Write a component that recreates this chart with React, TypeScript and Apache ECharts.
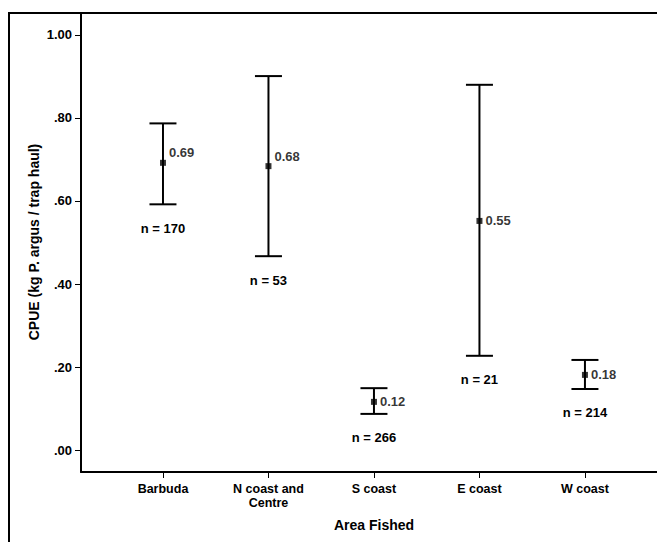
import React, { useEffect, useRef } from "react";
import * as echarts from "echarts";

const categories = ["Barbuda", "N coast and\nCentre", "S coast", "E coast", "W coast"];
const means = [0.692, 0.684, 0.116, 0.552, 0.181];
const meanLabels = ["0.69", "0.68", "0.12", "0.55", "0.18"];
const lowers = [0.592, 0.467, 0.087, 0.227, 0.147];
const uppers = [0.787, 0.901, 0.149, 0.88, 0.217];
const counts = [170, 53, 266, 21, 214];
const yTicks = [0, 0.2, 0.4, 0.6, 0.8, 1.0];

const FONT = "Liberation Sans, Arial, sans-serif";

export default function App() {
  const ref = useRef<HTMLDivElement>(null);
  useEffect(() => {
    if (!ref.current) return;
    const chart = echarts.init(ref.current, null, { renderer: "svg" });
    const xs = categories.map((_, i) => i + 1);
    const errData = xs.map((x, i) => [x, lowers[i], uppers[i], counts[i]]);
    const meanData = xs.map((x, i) => ({
      value: [x, means[i]],
      label: { offset: i < 2 ? [0, -10] : [0, 0], formatter: meanLabels[i] },
    }));
    chart.setOption({
      animation: false,
      backgroundColor: "#fff",
      grid: { left: 81, top: 13, right: 0, bottom: 70 },
      graphic: [
        {
          type: "rect",
          shape: { x: 9, y: 13, width: 700, height: 600 },
          style: { fill: "none", stroke: "#000", lineWidth: 2 },
          z: 100,
        },
        {
          type: "text",
          x: 34,
          y: 242,
          rotation: Math.PI / 2,
          style: {
            text: "CPUE (kg P. argus / trap haul)",
            font: "bold 14px " + FONT,
            fill: "#000",
            align: "center",
            verticalAlign: "middle",
          },
        },
        {
          type: "text",
          x: 374,
          y: 525,
          style: {
            text: "Area Fished",
            font: "bold 14px " + FONT,
            fill: "#000",
            align: "center",
            verticalAlign: "middle",
          },
        },
      ],
      xAxis: {
        type: "value",
        min: 0.223,
        max: 5.683,
        splitLine: { show: false },
        axisLine: { show: true, onZero: false, lineStyle: { color: "#000", width: 2 } },
        axisTick: {
          show: true,
          customValues: xs,
          length: 6,
          lineStyle: { color: "#000", width: 1 },
        },
        axisLabel: {
          show: true,
          customValues: xs,
          formatter: (v: number) => categories[Math.round(v) - 1] ?? "",
          color: "#000",
          fontFamily: FONT,
          fontWeight: "bold",
          fontSize: 12.5,
          lineHeight: 14,
          margin: 10,
          align: "center",
        },
      },
      yAxis: {
        type: "value",
        min: -0.053,
        max: 1.053,
        splitLine: { show: false },
        axisLine: { show: true, onZero: false, lineStyle: { color: "#000", width: 2 } },
        axisTick: {
          show: true,
          customValues: yTicks,
          length: 6,
          lineStyle: { color: "#000", width: 1 },
        },
        axisLabel: {
          show: true,
          customValues: yTicks,
          formatter: (v: number) => v.toFixed(2).replace(/^0/, ""),
          color: "#000",
          fontFamily: FONT,
          fontWeight: "bold",
          fontSize: 13,
          margin: 9,
        },
      },
      series: [
        {
          type: "custom",
          data: errData,
          clip: false,
          renderItem: (params: any, api: any) => {
            const x = api.value(0);
            const lo = api.coord([x, api.value(1)]);
            const hi = api.coord([x, api.value(2)]);
            const n = api.value(3);
            const hw = 13.5;
            const ls = { stroke: "#000", lineWidth: 2 };
            return {
              type: "group",
              children: [
                { type: "line", shape: { x1: hi[0], y1: hi[1], x2: lo[0], y2: lo[1] }, style: ls },
                { type: "line", shape: { x1: hi[0] - hw, y1: hi[1], x2: hi[0] + hw, y2: hi[1] }, style: ls },
                { type: "line", shape: { x1: lo[0] - hw, y1: lo[1], x2: lo[0] + hw, y2: lo[1] }, style: ls },
                {
                  type: "text",
                  x: lo[0],
                  y: lo[1] + 24,
                  style: {
                    text: "n = " + n,
                    font: "bold 13px " + FONT,
                    fill: "#000",
                    align: "center",
                    verticalAlign: "middle",
                  },
                },
              ],
            };
          },
        },
        {
          type: "scatter",
          data: meanData,
          symbol: "rect",
          symbolSize: 6,
          itemStyle: { color: "#000" },
          z: 5,
          label: {
            show: true,
            position: "right",
            distance: 3,
            color: "#000",
            fontFamily: FONT,
            fontWeight: "bold",
            fontSize: 13,
          },
        },
      ],
    });
    return () => chart.dispose();
  }, []);
  return (
    <div
      ref={ref}
      style={{ position: "absolute", left: 0, top: 0, width: 657, height: 542 }}
    />
  );
}
